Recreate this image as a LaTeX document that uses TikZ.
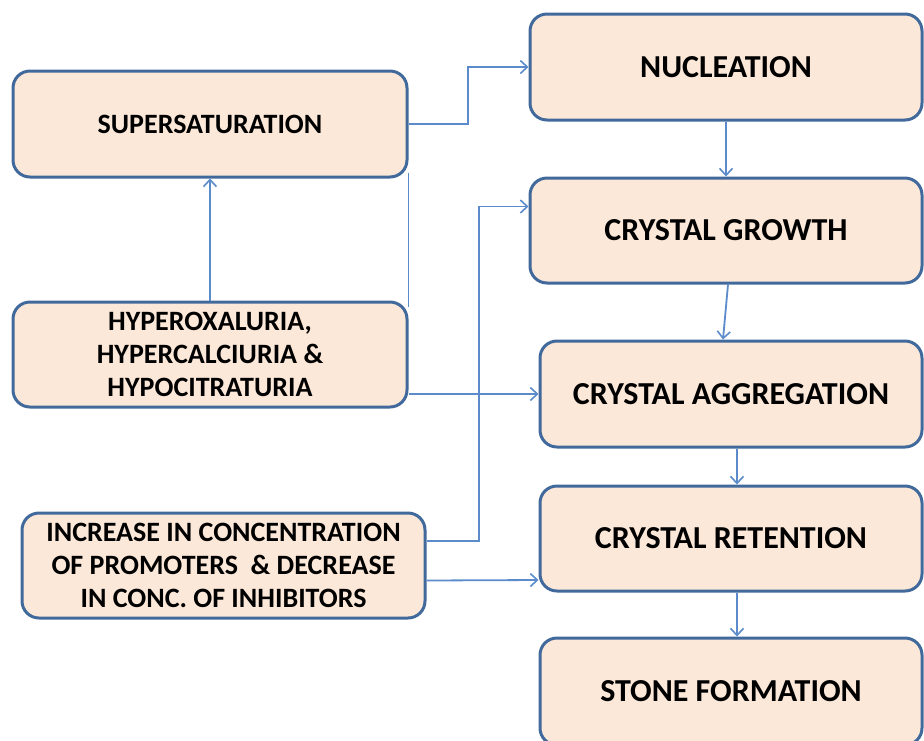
\documentclass[tikz,border=0pt]{standalone}
\usepackage{fontspec}
\setmainfont{Carlito}
\usetikzlibrary{arrows.meta,calc}
\definecolor{boxfill}{HTML}{FCE8D9}
\definecolor{boxline}{HTML}{41699B}
\definecolor{conn}{HTML}{5B8BCB}
\begin{document}
\begin{tikzpicture}[x=1pt,y=-1pt,
  box/.style={draw=boxline,line width=3pt,fill=boxfill,rounded corners=17pt,
    inner sep=0pt,align=center,font=\bfseries},
  lbox/.style={box,font=\bfseries\fontsize{28}{33}\selectfont},
  rbox/.style={box,font=\bfseries\fontsize{32}{36}\selectfont},
  conn/.style={draw=conn,line width=1.8pt,-{Straight Barb[length=7pt,width=13pt,line width=1.6pt]}},
  plain/.style={draw=conn,line width=1.8pt}]
\useasboundingbox (0,0) rectangle (924,740);
\begin{scope}
\clip (0,0) rectangle (924,740);
\coordinate (bend1) at (468,124);
\coordinate (bend2) at (479,541);
\node[lbox,minimum width=394pt,minimum height=106pt] (sup) at (210,124) {SUPERSATURATION};
\node[lbox,minimum width=394pt,minimum height=105pt] (hyp) at (210,354.5) {HYPEROXALURIA,\\HYPERCALCIURIA \&\\HYPOCITRATURIA};
\node[lbox,minimum width=403pt,minimum height=105pt] (inc) at (223.5,565.5) {INCREASE IN CONCENTRATION\\OF PROMOTERS \ \& DECREASE\\IN CONC. OF INHIBITORS};
\node[rbox,minimum width=392pt,minimum height=106pt] (nuc) at (726,67) {NUCLEATION};
\node[rbox,minimum width=392pt,minimum height=105pt] (gro) at (726,230.5) {CRYSTAL GROWTH};
\node[rbox,minimum width=382pt,minimum height=106pt] (agg) at (731,394) {CRYSTAL AGGREGATION};
\node[rbox,minimum width=382pt,minimum height=105pt] (ret) at (731,538.5) {CRYSTAL RETENTION};
\node[rbox,minimum width=382pt,minimum height=107pt] (sto) at (731,691.5) {STONE FORMATION};
\end{scope}
\draw[conn] (sup.east) -- (bend1) |- (nuc.west);
\draw[plain] ($(sup.south east)+(0,-6)$) -- ($(hyp.north east)+(0,6)$);
\draw[conn] (hyp.north) -- (sup.south);
\draw[conn] (hyp.east |- agg.west) -- (agg.west);
\draw[conn] (inc.east |- bend2) -- (bend2) |- ($(gro.west)+(0,-24)$);
\draw[conn] ($(inc.east)+(0,15)$) -- ($(ret.west)+(0,41.5)$);
\draw[conn] (nuc.south) -- (gro.north);
\draw[conn] ($(gro.south)+(2,0)$) -- ($(agg.north)+(-8,0)$);
\draw[conn] ($(agg.south)+(6,0)$) -- ($(ret.north)+(6,0)$);
\draw[conn] ($(ret.south)+(6,0)$) -- ($(sto.north)+(6,0)$);
\end{tikzpicture}
\end{document}
